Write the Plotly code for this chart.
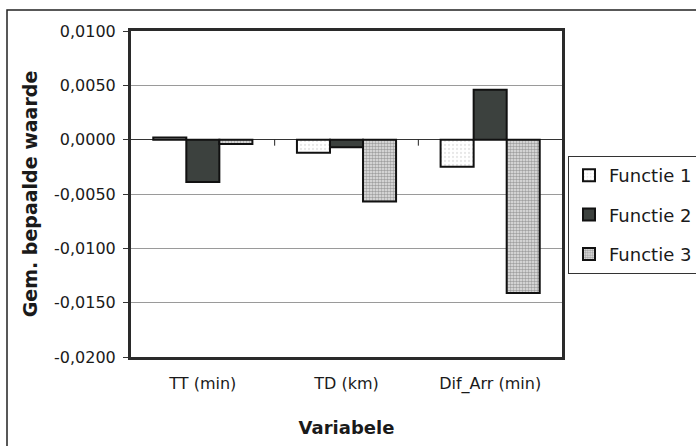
import plotly.graph_objects as go

# Mean estimated values per variable for each function
categories = ["TT (min)", "TD (km)", "Dif_Arr (min)"]
functie_1 = [0.0002, -0.0012, -0.0025]
functie_2 = [-0.0039, -0.0007, 0.0046]
functie_3 = [-0.0004, -0.0057, -0.0141]
series_names = ["Functie 1", "Functie 2", "Functie 3"]
y_ticks = [0.01, 0.005, 0.0, -0.005, -0.01, -0.015, -0.02]
y_ticktext = [f"{v:.4f}".replace(".", ",").replace("-0,0000", "0,0000") for v in y_ticks]

W, H = 696, 446
ML, MR, MT, MB = 131, 134, 31, 89
PW, PH = W - ML - MR, H - MT - MB

FONT = "DejaVu Sans"

fig = go.Figure()
styles = [
    dict(color="white", pattern=dict(shape=".", fgcolor="#d0d0d0", bgcolor="white", size=4, solidity=0.25)),
    dict(color="#3c413e"),
    dict(color="white", pattern=dict(shape=".", fgcolor="#5a5a5a", bgcolor="#e6e6e6", size=3, solidity=0.55)),
]
for name, vals, st in zip(series_names, [functie_1, functie_2, functie_3], styles):
    fig.add_trace(go.Bar(
        x=categories, y=vals, name=name, legendgroup=name,
        marker=dict(**st, line=dict(color="#111111", width=2)),
    ))

def px_x(p):
    return (p - ML) / PW

def px_y(p):
    return (H - MB - p) / PH

shapes = []
# outer chart frame (top and left edges visible)
shapes.append(dict(type="rect", xref="paper", yref="paper",
                   x0=px_x(7), x1=px_x(W + 20), y0=px_y(10), y1=px_y(H + 20),
                   line=dict(color="#222222", width=1.5), layer="below"))
# category separator ticks on the zero line
for xb in [0.5, 1.5]:
    shapes.append(dict(type="line", xref="x", yref="y", ysizemode="pixel", yanchor=0,
                       x0=xb, x1=xb, y0=0, y1=-6, line=dict(color="#222222", width=1)))

fig.update_layout(
    width=W, height=H,
    margin=dict(l=ML, r=MR, t=MT, b=MB, autoexpand=False),
    paper_bgcolor="white", plot_bgcolor="white",
    barmode="group", bargap=0.31, bargroupgap=0,
    font=dict(family=FONT, size=16, color="#1a1a1a"),
    showlegend=True,
    legend=dict(
        x=px_x(568), xanchor="left", y=px_y(156), yanchor="top",
        bgcolor="white", bordercolor="#333333", borderwidth=1,
        font=dict(family=FONT, size=18, color="#1a1a1a"),
        traceorder="grouped", tracegroupgap=13, itemwidth=30,
    ),
    xaxis=dict(
        type="category", range=[-0.5, 2.5],
        showline=True, mirror=True, linecolor="#2a2a2a", linewidth=3,
        ticks="", showgrid=False, ticklabelstandoff=10,
        tickfont=dict(family=FONT, size=16),
        title=dict(text="<b>Variabele</b>", font=dict(family=FONT, size=18), standoff=29),
    ),
    yaxis=dict(
        range=[-0.02, 0.01], tickvals=y_ticks, ticktext=y_ticktext,
        showline=True, mirror=True, linecolor="#2a2a2a", linewidth=3,
        ticks="outside", ticklen=5, tickcolor="#333333", tickwidth=1,
        ticklabelstandoff=4,
        showgrid=True, gridcolor="#9a9a9a", gridwidth=1,
        zeroline=True, zerolinecolor="#333333", zerolinewidth=1.2,
        tickfont=dict(family=FONT, size=16),
        title=dict(text="<b>Gem. bepaalde waarde</b>", font=dict(family=FONT, size=19), standoff=12),
    ),
    shapes=shapes,
)

fig.write_html("out.html")
